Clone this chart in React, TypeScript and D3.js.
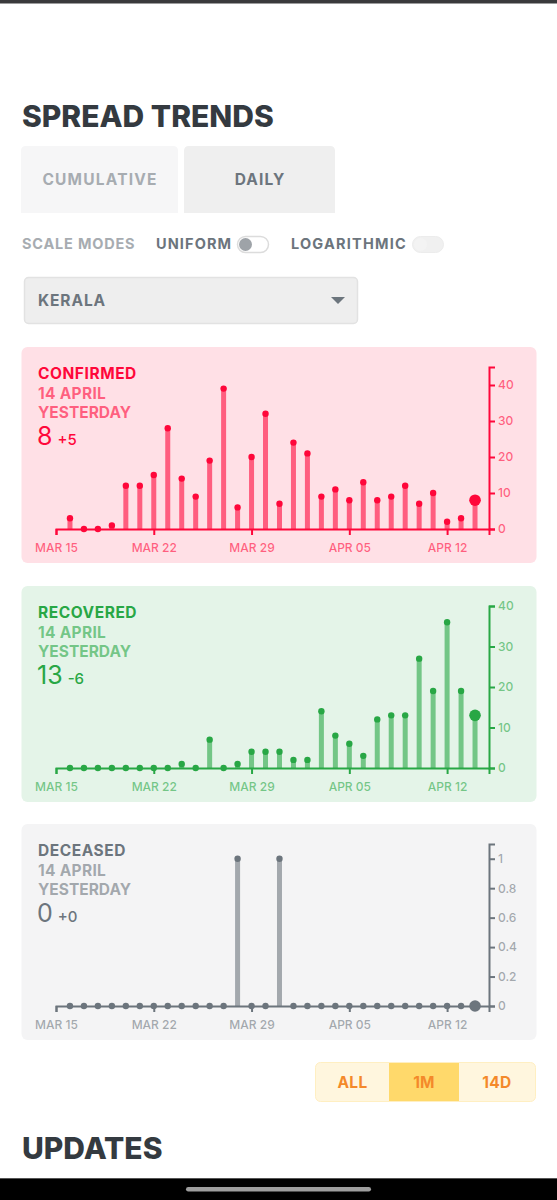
import React, { useEffect, useRef } from "react";
import * as d3 from "d3";

// daily counts, 16 Mar .. 14 Apr
const dates = d3.timeDay.range(new Date(2020, 2, 16), new Date(2020, 3, 15));
const confirmed = [3, 0, 0, 1, 12, 12, 15, 28, 14, 9, 19, 39, 6, 20, 32, 7, 24, 21, 9, 11, 8, 13, 8, 9, 12, 7, 10, 2, 3, 8];
const recovered = [0, 0, 0, 0, 0, 0, 0, 0, 1, 0, 7, 0, 1, 4, 4, 4, 2, 2, 14, 8, 6, 3, 12, 13, 13, 27, 19, 36, 19, 13];
const deceased = [0, 0, 0, 0, 0, 0, 0, 0, 0, 0, 0, 0, 1, 0, 0, 1, 0, 0, 0, 0, 0, 0, 0, 0, 0, 0, 0, 0, 0, 0];
const yTops = [45, 40, 1.1];
const rangeButtons = ["ALL", "1M", "14D"];

const FONT = "Inter, 'Noto Sans', sans-serif";

const panels = [
  { key: "CONFIRMED", values: confirmed, color: "#ff073a", bg: "#ffe0e6", top: 347 },
  { key: "RECOVERED", values: recovered, color: "#28a745", bg: "#e4f4e8", top: 586 },
  { key: "DECEASED", values: deceased, color: "#6c757d", bg: "#f4f4f5", top: 824 },
];

const x = d3
  .scaleTime()
  .domain([new Date(2020, 2, 15), new Date(2020, 3, 15)])
  .range([56, 489]);

function Panel({ idx }: { idx: number }) {
  const p = panels[idx];
  const ref = useRef<SVGGElement>(null);

  useEffect(() => {
    const g = d3.select(ref.current);
    g.selectAll("*").remove();

    const y = d3.scaleLinear().domain([0, yTops[idx]]).range([182, 20]);

    const styleAxis = (sel: any) => {
      sel.select(".domain").attr("stroke", p.color).attr("stroke-width", 2);
      sel.selectAll(".tick line").attr("stroke", p.color).attr("stroke-width", 2);
      sel
        .selectAll(".tick text")
        .attr("fill", p.color)
        .attr("fill-opacity", 0.6)
        .attr("font-family", FONT)
        .attr("font-weight", 500)
        .attr("font-size", 12);
    };

    // x axis
    g.append("g")
      .attr("transform", `translate(0,${y(0)})`)
      .call(
        d3
          .axisBottom(x)
          .ticks(d3.timeWeek.every(1))
          .tickFormat((d: any) => d3.timeFormat("%b %d")(d).toUpperCase())
          .tickPadding(8)
      )
      .call(styleAxis);

    // y axis on the right
    g.append("g")
      .attr("transform", `translate(${x.range()[1]},0)`)
      .call(d3.axisRight(y).ticks(5).tickFormat(d3.format("~g")))
      .call(styleAxis);

    // stems
    g.append("g")
      .selectAll("rect")
      .data(p.values)
      .join("rect")
      .attr("x", (_, i) => x(dates[i]) - 2.5)
      .attr("width", 5)
      .attr("y", (d) => y(d))
      .attr("height", (d) => y(0) - y(d))
      .attr("fill", p.color)
      .attr("fill-opacity", 0.6);

    // dots, the latest day drawn larger
    g.append("g")
      .selectAll("circle")
      .data(p.values)
      .join("circle")
      .attr("cx", (_, i) => x(dates[i]))
      .attr("cy", (d) => y(d))
      .attr("r", (_, i) => (i === p.values.length - 1 ? 5.8 : 3.2))
      .attr("fill", p.color);
  }, [idx]);

  const last = p.values[p.values.length - 1];
  const prev = p.values[p.values.length - 2];
  const delta = last - prev;

  const label = { fontFamily: FONT, fontWeight: 700, fontSize: 15.5, letterSpacing: 0.3 };

  return (
    <g transform={`translate(0,${p.top})`}>
      <rect x={21.5} y={0} width={515} height={216} rx={6} fill={p.bg} />
      <text x={38} y={32} fill={p.color} {...label} letterSpacing={0.55}>
        {p.key}
      </text>
      <text x={38} y={52} fill={p.color} fillOpacity={0.6} {...label}>
        14 APRIL
      </text>
      <text x={38} y={71} fill={p.color} fillOpacity={0.6} {...label} letterSpacing={0}>
        YESTERDAY
      </text>
      <text x={37} y={98} fill={p.color} fontFamily={FONT} fontWeight={400} fontSize={25}>
        {last}
        <tspan dx={5} fontSize={15} fontWeight={500}>
          {(delta >= 0 ? "+" : "") + delta}
        </tspan>
      </text>
      <g ref={ref} />
    </g>
  );
}

export default function App() {
  const ui = { fontFamily: FONT, fontWeight: 700 };
  return (
    <svg
      width={557}
      height={1200}
      style={{ position: "absolute", left: 0, top: 0, background: "#fff" }}
    >
      <rect x={0} y={0} width={557} height={3.5} fill="#3a3a3c" />

      <text x={22} y={127} fill="#343a40" fontFamily={FONT} fontWeight={800} fontSize={30}>
        SPREAD TRENDS
      </text>

      {/* view tabs */}
      <path d="M21,213 V151 Q21,146 26,146 H173 Q178,146 178,151 V213 Z" fill="#f6f6f7" />
      <path d="M184,213 V151 Q184,146 189,146 H330 Q335,146 335,151 V213 Z" fill="#efefef" />
      <text x={100} y={185} textAnchor="middle" fill="#a7acb1" {...ui} fontSize={15.5} letterSpacing={1.2}>
        CUMULATIVE
      </text>
      <text x={260} y={185} textAnchor="middle" fill="#6c757d" {...ui} fontSize={15.5} letterSpacing={1.1}>
        DAILY
      </text>

      {/* scale modes */}
      <text x={22} y={249} fill="#a7acb1" {...ui} fontSize={14.5} letterSpacing={0.8}>
        SCALE MODES
      </text>
      <text x={156} y={249} fill="#6c757d" {...ui} fontSize={14.5} letterSpacing={1.1}>
        UNIFORM
      </text>
      <rect x={237.5} y={236.5} width={31} height={16} rx={8} fill="#fff" stroke="#dcdcdc" strokeWidth={1.5} />
      <circle cx={245.5} cy={244.5} r={6.5} fill="#9ea3a8" />
      <text x={291} y={249} fill="#6c757d" {...ui} fontSize={14.5} letterSpacing={1.2}>
        LOGARITHMIC
      </text>
      <rect x={412.5} y={236.5} width={31} height={16} rx={8} fill="#f0f0f0" stroke="#ececec" strokeWidth={1} />
      <circle cx={420.5} cy={244.5} r={6.5} fill="#f3f3f3" />

      {/* state selector */}
      <rect x={24.5} y={277.5} width={333} height={46} rx={4} fill="#eeeeee" stroke="#e2e2e2" strokeWidth={1.5} />
      <text x={38} y={306} fill="#6c757d" {...ui} fontSize={15.5} letterSpacing={0.9}>
        KERALA
      </text>
      <path d="M331,297 H345 L338,304 Z" fill="#6c757d" />

      {panels.map((_, i) => (
        <Panel key={i} idx={i} />
      ))}

      {/* time range buttons */}
      <g>
        <rect x={315.5} y={1062.5} width={220} height={39} rx={5} fill="#fff6de" stroke="#ffefc2" strokeWidth={1} />
        <rect x={389} y={1063} width={70} height={38} fill="#ffd96b" />
        {rangeButtons.map((b, i) => (
          <text
            key={b}
            x={[352.5, 424, 497][i]}
            y={1087.5}
            textAnchor="middle"
            fill="#f4892a"
            {...ui}
            fontSize={15.5}
            letterSpacing={0.3}
          >
            {b}
          </text>
        ))}
      </g>

      <text x={22} y={1159} fill="#343a40" fontFamily={FONT} fontWeight={800} fontSize={30}>
        UPDATES
      </text>

      <rect x={0} y={1178} width={557} height={22} fill="#000" />
      <rect x={0} y={1178} width={557} height={1} fill="#555" />
      <rect x={186} y={1187} width={185} height={4.5} rx={2.25} fill="#9e9e9e" />
    </svg>
  );
}
